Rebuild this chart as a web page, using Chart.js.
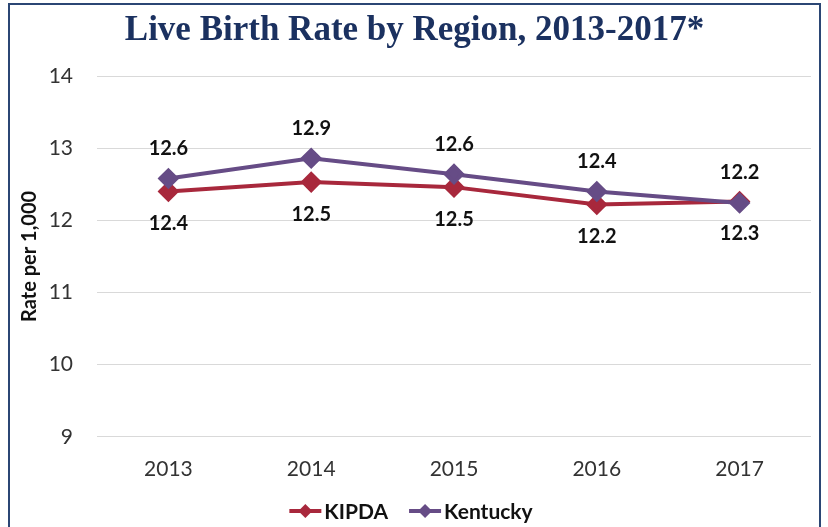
<!DOCTYPE html>
<html>
<head>
<meta charset="utf-8">
<script src="https://cdn.jsdelivr.net/npm/chart.js@4.4.1/dist/chart.umd.min.js"></script>
<style>
  html, body { margin:0; padding:0; background:#fff; }
  #wrap { position:relative; width:828px; height:527px; overflow:hidden; }
  #frame { position:absolute; left:8px; top:3px; width:813px; height:560px; border:2px solid #2B4674; box-sizing:border-box; pointer-events:none; }
  canvas { position:absolute; left:0; top:0; }
</style>
</head>
<body>
<div id="wrap">
  <canvas id="birthChart" width="828" height="527"></canvas>
  <div id="frame"></div>
</div>
<script>
// ============ DATA ============
const years = ['2013', '2014', '2015', '2016', '2017'];
const kipda = [12.40, 12.53, 12.46, 12.22, 12.26];
const kentucky = [12.58, 12.86, 12.64, 12.40, 12.24];
const yTicks = [9, 10, 11, 12, 13, 14];

const RED = '#A8283C';
const PURPLE = '#664C86';
const FONT = 'Lato, "Open Sans", sans-serif';

function diamond(ctx, x, y, r) {
  ctx.beginPath();
  ctx.moveTo(x, y - r); ctx.lineTo(x + r, y); ctx.lineTo(x, y + r); ctx.lineTo(x - r, y);
  ctx.closePath(); ctx.fill();
}

// value labels above / below each point
const valueLabels = {
  id: 'valueLabels',
  afterDatasetsDraw(chart) {
    const ctx = chart.ctx;
    ctx.save();
    ctx.font = 'bold 20px ' + FONT;
    ctx.fillStyle = '#111';
    ctx.textAlign = 'center';
    ctx.textBaseline = 'middle';
    chart.data.datasets.forEach((ds, i) => {
      chart.getDatasetMeta(i).data.forEach((pt, j) => {
        const dy = ds.labelAbove ? -30 : 32;
        ctx.fillText(ds.data[j].toFixed(1), pt.x, pt.y + dy);
      });
    });
    ctx.restore();
  }
};

// bottom legend: line + diamond marker, then bold name
const lineLegend = {
  id: 'lineLegend',
  afterDraw(chart) {
    const ctx = chart.ctx;
    const y = 511, mark = 32, gapText = 3, gapItem = 21;
    ctx.save();
    ctx.font = 'bold 21px ' + FONT;
    const items = chart.data.datasets.map(ds => ({ ds, w: ctx.measureText(ds.label).width }));
    const total = items.reduce((a, it) => a + mark + gapText + it.w, 0) + gapItem * (items.length - 1);
    let x = 411 - total / 2;
    items.forEach(it => {
      const c = it.ds.borderColor;
      ctx.strokeStyle = c; ctx.fillStyle = c; ctx.lineWidth = 4;
      ctx.beginPath(); ctx.moveTo(x, y); ctx.lineTo(x + mark, y); ctx.stroke();
      diamond(ctx, x + mark / 2, y, 7);
      ctx.fillStyle = '#111';
      ctx.textAlign = 'left'; ctx.textBaseline = 'middle';
      ctx.fillText(it.ds.label, x + mark + gapText, y + 1);
      x += mark + gapText + it.w + gapItem;
    });
    ctx.restore();
  }
};

new Chart(document.getElementById('birthChart'), {
  type: 'line',
  data: {
    labels: years,
    datasets: [
      { label:'KIPDA', data:kipda, borderColor:RED, backgroundColor:RED, borderWidth:4,
        pointStyle:'rectRot', pointRadius:8, pointHoverRadius:8, tension:0, order:1, labelAbove:false },
      { label:'Kentucky', data:kentucky, borderColor:PURPLE, backgroundColor:PURPLE, borderWidth:4,
        pointStyle:'rectRot', pointRadius:8, pointHoverRadius:8, tension:0, order:0, labelAbove:true }
    ]
  },
  options: {
    responsive:false, animation:false, devicePixelRatio:1,
    layout:{ padding:{ left:18, right:17, top:6, bottom:33 } },
    plugins: {
      title: {
        display:true, text:'Live Birth Rate by Region, 2013-2017*',
        color:'#1B3160', font:{ family:'"Liberation Serif", serif', size:35, weight:'bold' },
        padding:{ top:4, bottom:24 }
      },
      legend:{ display:false },
      tooltip:{ enabled:false }
    },
    scales: {
      x: {
        offset:true,
        grid:{ display:false }, border:{ display:false },
        ticks:{ color:'#333', font:{ family:FONT, size:21 }, padding:12 }
      },
      y: {
        min:9, max:14,
        afterBuildTicks: axis => { axis.ticks = yTicks.map(v => ({ value:v })); },
        afterFit: axis => { axis.width = 79; },
        grid:{ color:'#D9D9D9', lineWidth:1, drawTicks:false }, border:{ display:false },
        ticks:{ color:'#333', font:{ family:FONT, size:21 }, padding:24 },
        title:{ display:true, text:'Rate per 1,000', color:'#111', font:{ family:FONT, size:20, weight:'bold' }, padding:{ top:0, bottom:0 } }
      }
    }
  },
  plugins:[valueLabels, lineLegend]
});
</script>
</body>
</html>
